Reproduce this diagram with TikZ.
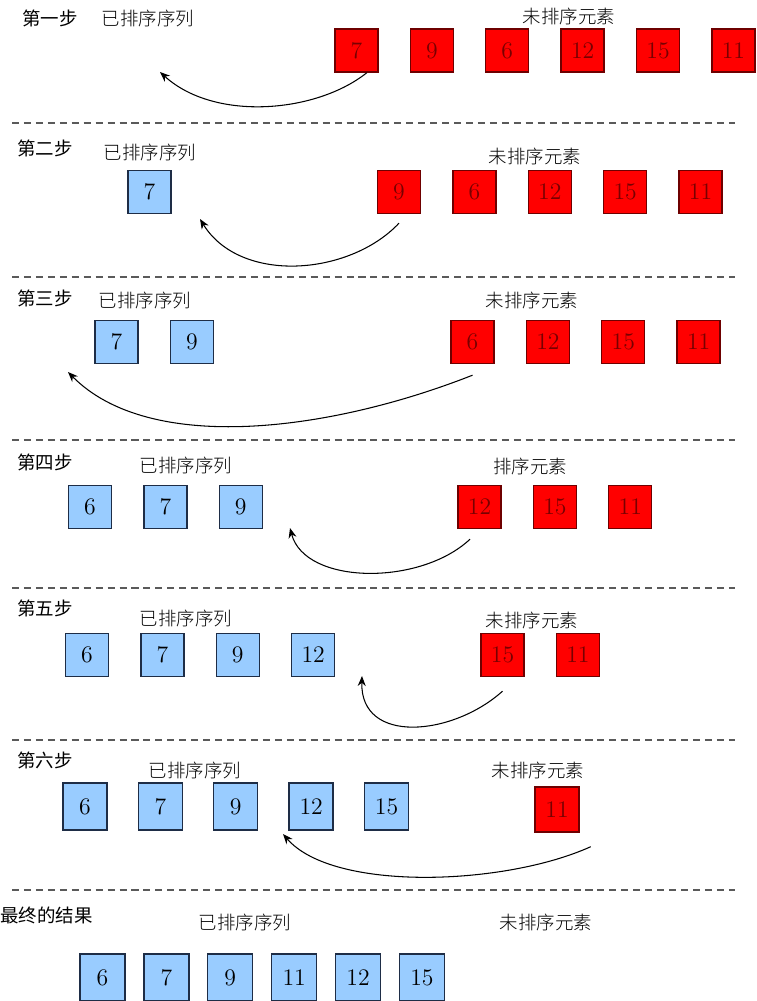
\documentclass[tikz,border=0pt]{standalone}
\usepackage{fontspec}
\newfontfamily\cjk{Noto Sans CJK SC}
\newfontfamily\cjklight{Noto Sans CJK SC Light}
\usetikzlibrary{positioning,arrows.meta}
\definecolor{sortfill}{RGB}{153,204,255}
\definecolor{sortline}{RGB}{30,45,70}
\definecolor{unsortfill}{RGB}{255,0,0}
\definecolor{unsortline}{RGB}{110,0,0}
\definecolor{unsorttext}{RGB}{120,0,0}
\definecolor{sepgray}{RGB}{90,90,90}
\tikzset{
  cell/.style={draw, line width=0.8pt, minimum width=0.86cm, minimum height=0.86cm,
               inner sep=0pt, font=\fontsize{13.5}{13.5}\selectfont},
  sorted/.style={cell, fill=sortfill, draw=sortline, text=black},
  unsorted/.style={cell, fill=unsortfill, draw=unsortline, text=unsorttext},
  steplbl/.style={font=\cjk\fontsize{10.5}{12}\selectfont, inner sep=0pt},
  grplbl/.style={font=\cjklight\fontsize{10.5}{12}\selectfont, inner sep=0pt},
  flow/.style={-{Stealth[length=2mm, width=1.6mm]}, line width=0.6pt},
  sep/.style={draw=sepgray, line width=0.7pt, dash pattern=on 4pt off 2.8pt},
}
\begin{document}
\begin{tikzpicture}[x=0.02cm, y=-0.02cm]
        \useasboundingbox (0,0) rectangle (757,1001);

        \node[steplbl] (step1) at (50,18) {第一步};
        \node[grplbl] (srt1) at (148,18) {已排序序列};
        \node[grplbl] (uns1) at (569,16) {未排序元素};
        \node[unsorted] (r1a) at (356.5,50.5) {7};
        \node[unsorted, right=0.62cm of r1a] (r1b) {9};
        \node[unsorted, right=0.62cm of r1b] (r1c) {6};
        \node[unsorted, right=0.62cm of r1c] (r1d) {12};
        \node[unsorted, right=0.62cm of r1d] (r1e) {15};
        \node[unsorted, right=0.62cm of r1e] (r1f) {11};
        \coordinate (to1) at (160,72);
        \draw[flow] (r1a.-65) .. controls +(-50,40) and +(55,50) .. (to1);
        \draw[sep] (12,123) -- (735,123);

        \node[steplbl] (step2) at (45,148) {第二步};
        \node[grplbl] (srt2) at (150,152) {已排序序列};
        \node[grplbl] (uns2) at (535,156) {未排序元素};
        \node[sorted] (b2a) at (149.5,192) {7};
        \node[unsorted] (r2a) at (399,192) {9};
        \node[unsorted, right=0.62cm of r2a] (r2b) {6};
        \node[unsorted, right=0.62cm of r2b] (r2c) {12};
        \node[unsorted, right=0.62cm of r2c] (r2d) {15};
        \node[unsorted, right=0.62cm of r2d] (r2e) {11};
        \coordinate[below=0.18cm of r2a] (from2);
        \coordinate (to2) at (200,219);
        \draw[flow] (from2) .. controls +(-50,53) and +(40,65) .. (to2);
        \draw[sep] (12,277) -- (735,277);

        \node[steplbl] (step3) at (45,298) {第三步};
        \node[grplbl] (srt3) at (145,300) {已排序序列};
        \node[grplbl] (uns3) at (532,300) {未排序元素};
        \node[sorted] (b3a) at (116.5,342) {7};
        \node[sorted, right=0.62cm of b3a] (b3b) {9};
        \node[unsorted] (r3a) at (472.5,342) {6};
        \node[unsorted, right=0.62cm of r3a] (r3b) {12};
        \node[unsorted, right=0.62cm of r3b] (r3c) {15};
        \node[unsorted, right=0.62cm of r3c] (r3d) {11};
        \coordinate[below=0.22cm of r3a] (from3);
        \coordinate (to3) at (68,372);
        \draw[flow] (from3) .. controls +(-142,56) and +(82,83) .. (to3);
        \draw[sep] (12,440) -- (735,440);

        \node[steplbl] (step4) at (45,462) {第四步};
        \node[grplbl] (srt4) at (186,465) {已排序序列};
        \node[grplbl] (uns4) at (530,466) {排序元素};
        \node[sorted] (b4a) at (90,507) {6};
        \node[sorted, right=0.62cm of b4a] (b4b) {7};
        \node[sorted, right=0.62cm of b4b] (b4c) {9};
        \node[unsorted] (r4a) at (479.5,507) {12};
        \node[unsorted, right=0.62cm of r4a] (r4b) {15};
        \node[unsorted, right=0.62cm of r4b] (r4c) {11};
        \coordinate[below=0.2cm of r4a, xshift=-0.19cm] (from4);
        \coordinate (to4) at (290,528);
        \draw[flow] (from4) .. controls +(-50,47) and +(15,57) .. (to4);
        \draw[sep] (12,588) -- (735,588);

        \node[steplbl] (step5) at (45,608) {第五步};
        \node[grplbl] (srt5) at (186,618) {已排序序列};
        \node[grplbl] (uns5) at (532,620) {未排序元素};
        \node[sorted] (b5a) at (87,655) {6};
        \node[sorted, right=0.62cm of b5a] (b5b) {7};
        \node[sorted, right=0.62cm of b5b] (b5c) {9};
        \node[sorted, right=0.62cm of b5c] (b5d) {12};
        \node[unsorted] (r5a) at (502.5,655) {15};
        \node[unsorted, right=0.62cm of r5a] (r5b) {11};
        \coordinate[below=0.28cm of r5a] (from5);
        \coordinate (to5) at (362,676);
        \draw[flow] (from5) .. controls +(-50,45) and +(-2,69) .. (to5);
        \draw[sep] (12,740) -- (735,740);

        \node[steplbl] (step6) at (45,760) {第六步};
        \node[grplbl] (srt6) at (195,770) {已排序序列};
        \node[grplbl] (uns6) at (538,770) {未排序元素};
        \node[sorted, minimum width=0.88cm, minimum height=0.94cm] (b6a) at (85,806.5) {6};
        \node[sorted, minimum width=0.88cm, minimum height=0.94cm, right=0.6cm of b6a] (b6b) {7};
        \node[sorted, minimum width=0.88cm, minimum height=0.94cm, right=0.6cm of b6b] (b6c) {9};
        \node[sorted, minimum width=0.88cm, minimum height=0.94cm, right=0.6cm of b6c] (b6d) {12};
        \node[sorted, minimum width=0.88cm, minimum height=0.94cm, right=0.6cm of b6d] (b6e) {15};
        \node[unsorted, minimum width=0.88cm, minimum height=0.9cm] (r6a) at (557,809.5) {11};
        \coordinate[below right=0.28cm and 0.22cm of r6a] (from6);
        \coordinate (to6) at (283,834);
        \draw[flow] (from6) .. controls +(-86,39) and +(50,58) .. (to6);
        \draw[sep] (12,890) -- (735,890);

        \node[steplbl] (final) at (46.5,915) {最终的结果};
        \node[grplbl] (srt7) at (245,922) {已排序序列};
        \node[grplbl] (uns7) at (546,922) {未排序元素};
        \node[sorted, minimum width=0.9cm, minimum height=0.94cm] (b7a) at (102.5,977.5) {6};
        \node[sorted, minimum width=0.9cm, minimum height=0.94cm, right=0.35cm of b7a] (b7b) {7};
        \node[sorted, minimum width=0.9cm, minimum height=0.94cm, right=0.35cm of b7b] (b7c) {9};
        \node[sorted, minimum width=0.9cm, minimum height=0.94cm, right=0.35cm of b7c] (b7d) {11};
        \node[sorted, minimum width=0.9cm, minimum height=0.94cm, right=0.35cm of b7d] (b7e) {12};
        \node[sorted, minimum width=0.9cm, minimum height=0.94cm, right=0.35cm of b7e] (b7f) {15};
      \end{tikzpicture}
\end{document}
